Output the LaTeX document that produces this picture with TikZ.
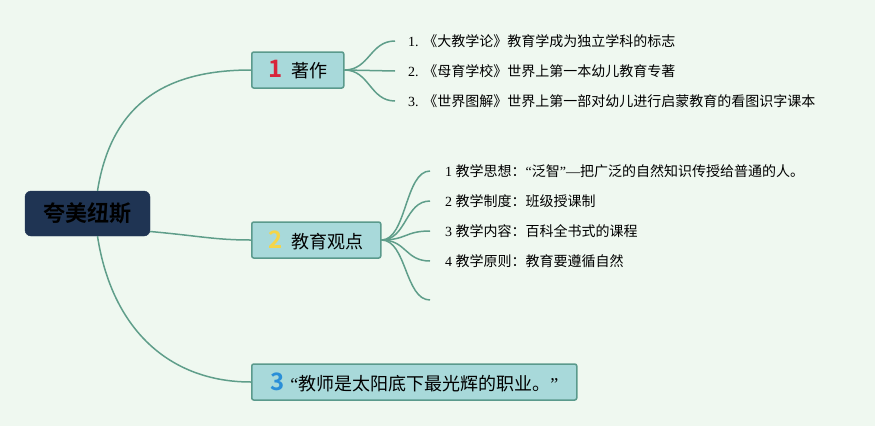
\documentclass[tikz,border=0pt]{standalone}
\usepackage{fontspec}
\setmainfont{Liberation Serif}
\newfontfamily\cjk{Noto Sans CJK SC}
\newfontfamily\cjkbold{Noto Sans CJK SC Bold}
\usetikzlibrary{positioning}
\definecolor{bgmint}{HTML}{EFF8F0}
\definecolor{rootblue}{HTML}{1F3453}
\definecolor{boxfill}{HTML}{A8D9DA}
\definecolor{boxline}{HTML}{5A9A8C}
\definecolor{linkgreen}{HTML}{5F9E8A}
\definecolor{numred}{HTML}{D8253A}
\definecolor{numyellow}{HTML}{F5D547}
\definecolor{numblue}{HTML}{2A8FD8}
\tikzset{
  rootbox/.style={draw=rootblue, fill=rootblue, text=black, rounded corners=6pt, minimum width=125pt,
    minimum height=45pt, inner sep=0pt, font=\cjkbold\fontsize{22}{24}\selectfont},
  topicbox/.style={draw=boxline, fill=boxfill, line width=1.5pt, rounded corners=2pt,
    minimum height=36pt, inner sep=0pt, anchor=west, font=\cjk\fontsize{18}{20}\selectfont},
  leaf/.style={anchor=west, inner sep=0pt, font=\fontsize{14}{16}\selectfont},
  link/.style={draw=linkgreen, line width=1.5pt}
}
\newcommand{\topicnum}[2]{{\color{#1}\cjkbold\fontsize{24}{24}\selectfont #2}\hspace{9pt}}
\begin{document}
\begin{tikzpicture}[x=1pt, y=-1pt]
\fill[bgmint] (0,0) rectangle (875,426);
\useasboundingbox (0,0) rectangle (875,426);

% root
\node[rootbox] (root) at (87.5,213.5) {夸美纽斯};

% main topics
\node[topicbox, minimum width=92pt] (works) at (251,70) {\topicnum{numred}{1}著作};
\node[topicbox, minimum width=129pt] (views) at (251,240) {\topicnum{numyellow}{2}教育观点};
\node[topicbox, minimum width=325pt] (quote) at (251,382) {\topicnum{numblue}{3}\hspace{-3pt}{\rmfamily “}教师是太阳底下最光辉的职业。{\rmfamily ”}};

% works leaves
\node[leaf] (w1) at (408,41) {1. {\cjk《大教学论》教育学成为独立学科的标志}};
\node[leaf] (w2) at (408,71) {2. {\cjk《母育学校》世界上第一本幼儿教育专著}};
\node[leaf] (w3) at (408,101) {3. {\cjk《世界图解》世界上第一部对幼儿进行启蒙教育的看图识字课本}};

% views leaves
\node[leaf] (v1) at (445,171) {1 {\cjk 教学思想：}“{\cjk 泛智}”—{\cjk 把广泛的自然知识传授给普通的人。}};
\node[leaf] (v2) at (445,201) {2 {\cjk 教学制度：班级授课制}};
\node[leaf] (v3) at (445,231) {3 {\cjk 教学内容：百科全书式的课程}};
\node[leaf] (v4) at (445,261) {4 {\cjk 教学原则：教育要遵循自然}};
\coordinate (v5) at (430,300);

% root links
\draw[link] (root.north) ++(10,0) .. controls (112,100) and (170,70) .. (works.west);
\draw[link] (root.east) ++(0,18) .. controls (200,236) and (215,240) .. (views.west);
\draw[link] (root.south) ++(10,0) .. controls (112,330) and (170,382) .. (quote.west);

% works links
\foreach \w in {w1,w2,w3}
  \draw[link] (works.east) .. controls +(25,0) and +(-25,0) .. ([xshift=-13pt]\w.west);

% views links
\foreach \v in {v1,v2,v3,v4}
  \draw[link] (views.east) .. controls +(25,0) and +(-25,0) .. ([xshift=-15pt]\v.west);
\draw[link] (views.east) .. controls +(25,0) and +(-25,0) .. (v5);
\end{tikzpicture}
\end{document}
